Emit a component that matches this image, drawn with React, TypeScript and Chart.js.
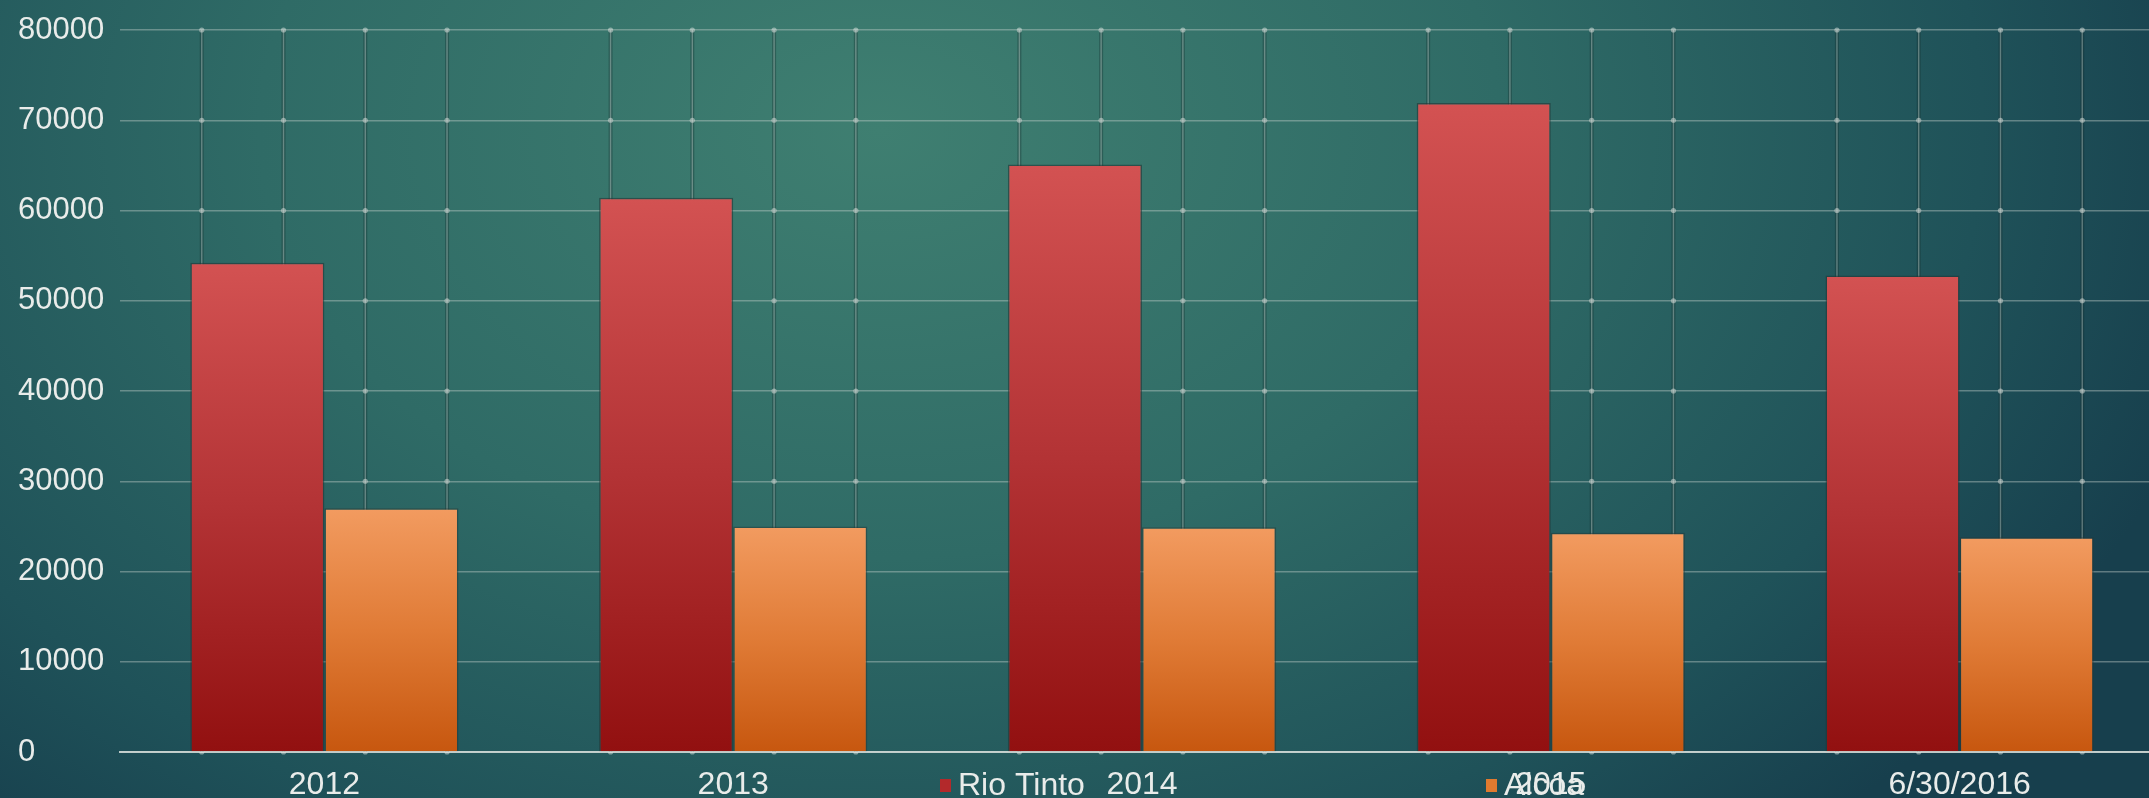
import React, { useEffect, useRef } from "react";
import { Chart, registerables } from "chart.js";

Chart.register(...registerables);

// ---- data ----
const categories = ["2012", "2013", "2014", "2015", "6/30/2016"];
const rioTinto = [54200, 61400, 65100, 71900, 52800];
const alcoa = [27000, 25000, 24900, 24300, 23800];
const seriesNames = ["Rio Tinto", "Alcoa"];
const yMin = 0;
const yMax = 80000;
const yStep = 10000;
const gridPerCategory = 5;

const GRID = "rgba(196,208,202,0.42)";
const GRID_SHADOW = "rgba(20,45,45,0.35)";
const TEXT = "#e9ecea";

function App() {
  const ref = useRef<HTMLCanvasElement | null>(null);

  useEffect(() => {
    const canvas = ref.current;
    if (!canvas) return;

    const barGrad = (stops: [number, string][]) => (ctx: any) => {
      const chart = ctx.chart;
      const y = chart.scales && chart.scales.y;
      if (!y || !chart.chartArea || ctx.raw == null) return stops[0][1];
      const y0 = y.getPixelForValue(0);
      const y1 = y.getPixelForValue(ctx.raw);
      if (!isFinite(y0) || !isFinite(y1)) return stops[0][1];
      const g = chart.ctx.createLinearGradient(0, y1, 0, y0);
      stops.forEach(([o, c]) => g.addColorStop(o, c));
      return g;
    };

    const bgPlugin = {
      id: "bg",
      beforeDraw(chart: any) {
        const { ctx, width, height } = chart;
        ctx.save();
        const cx = 880, cy = 130;
        ctx.translate(cx, cy);
        ctx.scale(1.45, 1);
        const g = ctx.createRadialGradient(0, 0, 0, 0, 0, 950);
        g.addColorStop(0, "#3f7f71");
        g.addColorStop(0.45, "#2f6b66");
        g.addColorStop(0.8, "#1f5259");
        g.addColorStop(1, "#173f4d");
        ctx.fillStyle = g;
        ctx.fillRect(-cx / 1.45 - 10, -cy - 10, width / 1.45 + 40, height + 40);
        ctx.restore();
      },
    };

    // vertical minor grid (inside each category band) + intersection dots
    const vGridPlugin = {
      id: "vgrid",
      beforeDatasetsDraw(chart: any) {
        const { ctx, chartArea } = chart;
        const x = chart.scales.x;
        const y = chart.scales.y;
        const band = x.width / categories.length;
        const xs: number[] = [];
        categories.forEach((_, ci) => {
          const left = x.getPixelForValue(ci) - band / 2;
          for (let k = 1; k < gridPerCategory; k++) xs.push(left + (band * k) / gridPerCategory);
        });
        ctx.save();
        xs.forEach((px) => {
          ctx.strokeStyle = GRID_SHADOW;
          ctx.lineWidth = 4;
          ctx.beginPath();
          ctx.moveTo(px, chartArea.top);
          ctx.lineTo(px, chartArea.bottom);
          ctx.stroke();
          ctx.strokeStyle = GRID;
          ctx.lineWidth = 1.4;
          ctx.beginPath();
          ctx.moveTo(px, chartArea.top);
          ctx.lineTo(px, chartArea.bottom);
          ctx.stroke();
        });
        ctx.fillStyle = "rgba(225,232,228,0.5)";
        for (let v = yMin; v <= yMax; v += yStep) {
          const py = y.getPixelForValue(v);
          xs.forEach((px) => {
            ctx.beginPath();
            ctx.arc(px, py, 2.6, 0, Math.PI * 2);
            ctx.fill();
          });
        }
        ctx.restore();
      },
    };

    const legendPlugin = {
      id: "customLegend",
      afterDraw(chart: any) {
        const { ctx } = chart;
        const colors = ["#b3292b", "#e07a2f"];
        const xs = [940, 1486];
        const yc = 785;
        ctx.save();
        ctx.font = "32px 'Liberation Sans', Arial, sans-serif";
        ctx.textBaseline = "middle";
        ctx.textAlign = "left";
        seriesNames.forEach((name, i) => {
          ctx.fillStyle = colors[i];
          ctx.fillRect(xs[i], yc - 6, 11, 13);
          ctx.fillStyle = TEXT;
          ctx.fillText(name, xs[i] + 18, yc + 1);
        });
        ctx.restore();
      },
    };

    const chart = new Chart(canvas, {
      type: "bar",
      data: {
        labels: categories,
        datasets: [
          {
            label: seriesNames[0],
            data: rioTinto,
            backgroundColor: barGrad([
              [0, "#d35252"],
              [0.5, "#b33335"],
              [1, "#921010"],
            ]),
            borderColor: "rgba(35,55,55,0.6)",
            borderWidth: 1.5,
            categoryPercentage: 0.656,
            barPercentage: 1.0,
          },
          {
            label: seriesNames[1],
            data: alcoa,
            backgroundColor: barGrad([
              [0, "#f29b60"],
              [0.5, "#e07b36"],
              [1, "#c7570f"],
            ]),
            borderColor: "rgba(35,55,55,0.5)",
            borderWidth: 1.5,
            categoryPercentage: 0.656,
            barPercentage: 1.0,
          },
        ],
      },
      options: {
        animation: false,
        responsive: true,
        maintainAspectRatio: false,
        layout: { padding: { left: 18, top: 30, right: 0, bottom: 0 } },
        plugins: {
          legend: { display: false },
          tooltip: { enabled: false },
        },
        scales: {
          x: {
            type: "category",
            position: "bottom",
            grid: { display: false, drawTicks: false },
            border: { display: true, color: "rgba(215,222,218,0.85)", width: 2 },
            ticks: {
              color: TEXT,
              font: { size: 32, family: "'Liberation Sans', Arial, sans-serif" },
              padding: 14,
              maxRotation: 0,
              autoSkip: false,
            },
            afterFit(scale: any) {
              scale.height = 46;
            },
          },
          y: {
            min: yMin,
            max: yMax,
            ticks: {
              stepSize: yStep,
              color: TEXT,
              crossAlign: "far",
              font: { size: 31, family: "'Liberation Sans', Arial, sans-serif" },
              callback: (v: any) => String(v),
            },
            border: { display: false },
            grid: { color: GRID, lineWidth: 1.5, drawTicks: false },
            afterFit(scale: any) {
              scale.width = 102;
            },
          },
        },
      },
      plugins: [bgPlugin, vGridPlugin, legendPlugin],
    } as any);

    return () => chart.destroy();
  }, []);

  return (
    <div
      style={{
        position: "fixed",
        left: 0,
        top: 0,
        width: 2149,
        height: 798,
        overflow: "hidden",
        background: "#1d4d57",
      }}
    >
      <div style={{ position: "relative", width: 2164, height: 798 }}>
        <canvas ref={ref} />
      </div>
    </div>
  );
}

export default App;
